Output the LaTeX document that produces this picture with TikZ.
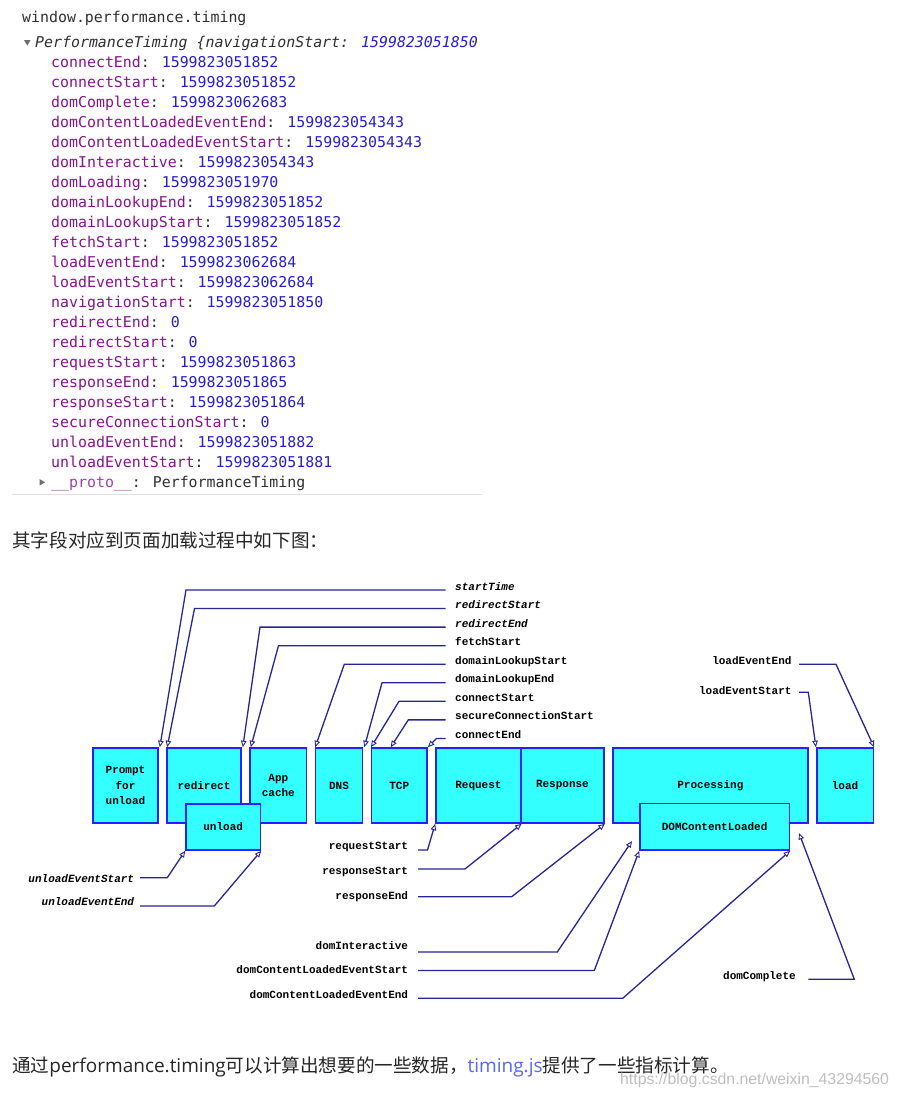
\documentclass[tikz,border=0pt]{standalone}
\usepackage{fontspec}
\setmainfont{Liberation Sans}
\newfontfamily\consolefont{DejaVu Sans Mono}
\newfontfamily\labfont{Liberation Mono}
\newfontfamily\cjkfont{Noto Sans CJK SC}
\newfontfamily\latfont{Open Sans}
\usetikzlibrary{arrows.meta}
\definecolor{keyc}{RGB}{136,19,145}
\definecolor{valc}{RGB}{40,32,200}
\definecolor{txtc}{RGB}{48,48,48}
\definecolor{boxfill}{RGB}{51,255,255}
\definecolor{boxdraw}{RGB}{34,34,255}
\definecolor{linec}{RGB}{38,38,150}
\definecolor{linkc}{RGB}{85,105,245}
\definecolor{trigray}{RGB}{110,110,110}
\newcommand\lat[1]{{\latfont\fontsize{19}{21}\selectfont #1}}
\begin{document}
\begin{tikzpicture}[x=1pt,y=-1pt,
  con/.style={font=\consolefont\fontsize{14.9}{18}\selectfont, inner sep=0, anchor=base west, text=txtc},
  lab/.style={font=\labfont\bfseries\fontsize{11}{13}\selectfont, inner sep=0, text height=6pt, text depth=0pt},
  box/.style={draw=boxdraw, fill=boxfill, line width=1.6pt, font=\labfont\bfseries\fontsize{11}{15.5}\selectfont, align=center, inner sep=0, minimum height=75},
  conn/.style={draw=linec, line width=1.3pt, -{Triangle[open,length=6.5pt,width=5.5pt,line width=0.9pt]}},
  cjk/.style={font=\cjkfont\fontsize{18.6}{21}\selectfont, inner sep=0, anchor=west, text=black!85},
]
\fill[white] (0,0) rectangle (899,1098);
\useasboundingbox (0,0) rectangle (899,1098);

% ---------- console ----------
\node[con] (win) at (22,22) {window.performance.timing};
\fill[trigray] (24,40) -- (30.6,40) -- (27.3,45.5) -- cycle;
\node[con] (pt) at (35,47.7) {\itshape PerformanceTiming \{navigationStart: \textcolor{valc}{1599823051850}};
\foreach \k/\v [count=\i from 0] in {connectEnd/1599823051852, connectStart/1599823051852, domComplete/1599823062683, domContentLoadedEventEnd/1599823054343, domContentLoadedEventStart/1599823054343, domInteractive/1599823054343, domLoading/1599823051970, domainLookupEnd/1599823051852, domainLookupStart/1599823051852, fetchStart/1599823051852, loadEventEnd/1599823062684, loadEventStart/1599823062684, navigationStart/1599823051850, redirectEnd/0, redirectStart/0, requestStart/1599823051863, responseEnd/1599823051865, responseStart/1599823051864, secureConnectionStart/0, unloadEventEnd/1599823051882, unloadEventStart/1599823051881}
  {\node[con] (k\i) at (51,67+20*\i) {\textcolor{keyc}{\k}: \textcolor{valc}{\v}};}
\fill[trigray] (39.5,479) -- (45,482.3) -- (39.5,485.6) -- cycle;
\node[con] (proto) at (51,487) {\textcolor{keyc!80}{\_\_proto\_\_}: PerformanceTiming};
\draw[black!12, line width=0.8pt] (12,494.5) -- (482,494.5);

% ---------- texts ----------
\node[cjk] (head) at (12,540) {其字段对应到页面加载过程中如下图：};
\node[cjk] (foot) at (12,1067) {通过\lat{performance.timing}可以计算出想要的一些数据，\textcolor{linkc}{\lat{timing.js}}提供了一些指标计算。};
\node[anchor=west, inner sep=0, font=\fontsize{15.8}{18}\selectfont, text=black!25] (url) at (620,1080) {https://blog.csdn.net/weixin\_43294560};

% ---------- boxes ----------
\node[box, minimum width=65] (prompt) at (125.5,785.5) {Prompt\\for\\unload};
\node[box, minimum width=74] (redirect) at (204,785.5) {redirect};
\node[box, minimum width=56.5] (appcache) at (278.3,785.5) {App\\cache};
\node[box, minimum width=47] (dns) at (339,785.5) {DNS};
\node[box, minimum width=55.8] (tcp) at (399.2,785.5) {TCP};
\node[box, minimum width=84.8] (request) at (478.4,785.5) {Request};
\node[box, minimum width=83.2] (response) at (562.4,785.5) {Response};
\node[box, minimum width=195.3] (processing) at (710.35,785.5) {Processing};
\node[box, minimum width=56.6] (load) at (845,785.5) {load};
\node[box, minimum width=74.4, minimum height=46] (unload) at (223.2,827) {unload};
\node[box, minimum width=149.3, minimum height=46.7] (dcl) at (714.65,826.65) {DOMContentLoaded};

% ---------- top labels ----------
\node[lab, anchor=base west] (t1) at (455,590) {\itshape startTime};
\node[lab, anchor=base west] (t2) at (455,608.55) {\itshape redirectStart};
\node[lab, anchor=base west] (t3) at (455,627.1) {\itshape redirectEnd};
\node[lab, anchor=base west] (t4) at (455,645.65) {fetchStart};
\node[lab, anchor=base west] (t5) at (455,664.2) {domainLookupStart};
\node[lab, anchor=base west] (t6) at (455,682.75) {domainLookupEnd};
\node[lab, anchor=base west] (t7) at (455,701.3) {connectStart};
\node[lab, anchor=base west] (t8) at (455,719.85) {secureConnectionStart};
\node[lab, anchor=base west] (t9) at (455,738.4) {connectEnd};
\draw[conn] ([xshift=-9.3pt]t1.base west) -- (186,590) -- ([xshift=1pt]prompt.north east);
\draw[conn] ([xshift=-9.3pt]t2.base west) -- (194.5,608.55) -- ([xshift=1pt]redirect.north west);
\draw[conn] ([xshift=-9.3pt]t3.base west) -- (260,627.1) -- ([xshift=1pt]redirect.north east);
\draw[conn] ([xshift=-9.3pt]t4.base west) -- (278.5,645.65) -- ([xshift=1.5pt]appcache.north west);
\draw[conn] ([xshift=-9.3pt]t5.base west) -- (344.3,664.2) -- ([xshift=0.5pt]dns.north west);
\draw[conn] ([xshift=-9.3pt]t6.base west) -- (382,682.75) -- ([xshift=1pt]dns.north east);
\draw[conn] ([xshift=-9.3pt]t7.base west) -- (399,701.3) -- ([xshift=0.5pt]tcp.north west);
\draw[conn] ([xshift=-9.3pt]t8.base west) -- (408.3,719.85) -- ([xshift=-8.5pt]tcp.north);
\draw[conn] ([xshift=-9.3pt]t9.base west) -- (436.5,738.4) -- (tcp.north east);

% ---------- right labels ----------
\node[lab, anchor=base east] (le) at (791.7,664.7) {loadEventEnd};
\node[lab, anchor=base east] (ls) at (791.7,694.7) {loadEventStart};
\draw[conn] ([shift={(7.3,-0.4)}]le.base east) -- (836,664.3) -- (load.north east);
\draw[conn] ([shift={(7.3,-2.4)}]ls.base east) -- (808.3,692.3) -- (load.north west);

% ---------- bottom-left labels ----------
\node[lab, anchor=base east] (us) at (134.3,882) {\itshape unloadEventStart};
\node[lab, anchor=base east] (ue) at (134.3,905.7) {\itshape unloadEventEnd};
\draw[conn] ([shift={(5.7,-4.3)}]us.base east) -- (167.3,877.7) -- (unload.south west);
\draw[conn] ([shift={(5.7,0.3)}]ue.base east) -- (214.3,906) -- (unload.south east);

% ---------- bottom-middle labels ----------
\coordinate (di) at (632,841);
\coordinate (dc) at (799,833);
\node[lab, anchor=base east] (rqs) at (408.3,849.7) {requestStart};
\node[lab, anchor=base east] (rss) at (408.3,874.7) {responseStart};
\node[lab, anchor=base east] (rse) at (408.3,899.7) {responseEnd};
\node[lab, anchor=base east] (dint) at (408.3,949) {domInteractive};
\node[lab, anchor=base east] (dcs) at (408.3,973.7) {domContentLoadedEventStart};
\node[lab, anchor=base east] (dce) at (408.3,998.7) {domContentLoadedEventEnd};
\node[lab, anchor=base east] (dcomp) at (796,979.7) {domComplete};
\draw[conn] ([shift={(9.7,0.3)}]rqs.base east) -- (427.5,850) -- (request.south west);
\draw[conn] ([shift={(9.7,-5.7)}]rss.base east) -- (465,869) -- (request.south east);
\draw[conn] ([shift={(9.7,-3)}]rse.base east) -- (511.7,896.7) -- (response.south east);
\draw[conn] ([shift={(9.7,3)}]dint.base east) -- (557.3,952) -- (di);
\draw[conn] ([shift={(9.7,-3.2)}]dcs.base east) -- (594.3,970.5) -- (dcl.south west);
\draw[conn] ([shift={(9.7,-0.4)}]dce.base east) -- (622.7,998.3) -- (dcl.south east);
\draw[conn] ([shift={(12.3,-0.4)}]dcomp.base east) -- (854.3,979.3) -- (dc);
\end{tikzpicture}
\end{document}
